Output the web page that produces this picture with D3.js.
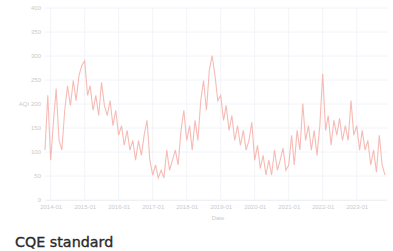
<!DOCTYPE html>
<html><head><meta charset="utf-8">
<script src="https://cdn.jsdelivr.net/npm/d3@7"></script>
<style>html,body{margin:0;padding:0;background:#fff;}svg{display:block;}</style>
</head><body>
<script>
// Monthly values, 2013-11 .. 2023-11
const startMonth = "2013-11";
const values = [104,218,83,166,232,124,104,187,238,197,249,207,259,280,290,218,238,187,218,176,
245,197,176,207,155,187,135,155,114,145,104,124,83,124,93,135,166,83,52,73,
46,62,46,104,62,83,104,73,145,187,124,155,104,166,124,207,249,187,270,301,
259,207,218,166,197,145,176,124,155,114,145,104,124,162,83,114,66,93,52,83,
52,104,62,83,108,62,73,135,73,145,104,201,124,155,104,145,93,155,263,145,
176,114,166,135,170,124,155,124,207,135,155,104,145,104,124,73,104,58,135,73,52];
const yTicks = [0,50,100,150,200,250,300,350,400];
const xTickYears = [2014,2015,2016,2017,2018,2019,2020,2021,2022,2023];
const yTitle = "AQI";
const xTitle = "Date";
const caption = "CQE standard";

(function(){
const W = 393, H = 251;
const svg = d3.select("body").append("svg").attr("width", W).attr("height", H);
const parse = d3.timeParse("%Y-%m");
const t0 = parse(startMonth);
const data = values.map((v, i) => ({d: d3.timeMonth.offset(t0, i), v}));

const mL = 45, mR = 385, mT = 8, mB = 200;
const x = d3.scaleTime().domain([data[0].d, data[data.length-1].d]).range([mL, mR]);
const y = d3.scaleLinear().domain([0, 400]).range([mB, mT]);
const font = "Liberation Sans, Arial, sans-serif";

const g = svg.append("g");
g.selectAll(".hg").data(yTicks).join("line")
  .attr("x1", mL).attr("x2", mR + 3)
  .attr("y1", d => y(d)).attr("y2", d => y(d))
  .attr("stroke", "#eef1f7").attr("stroke-width", 0.8);
const xTicks = xTickYears.map(yr => new Date(yr, 0, 1));
g.selectAll(".vg").data(xTicks).join("line")
  .attr("x1", d => x(d)).attr("x2", d => x(d))
  .attr("y1", mT).attr("y2", mB)
  .attr("stroke", "#f1f3f8").attr("stroke-width", 0.8);

const yAxis = d3.axisLeft(y).tickValues(yTicks).tickSize(0).tickPadding(4);
const ya = svg.append("g").attr("transform", `translate(${mL},0)`).call(yAxis);
ya.select(".domain").remove();
ya.selectAll("text").attr("fill", "#cacaca").style("font-size", "6px").style("font-family", font);

const xAxis = d3.axisBottom(x).tickValues(xTicks).tickFormat(d3.timeFormat("%Y-%m")).tickSize(0).tickPadding(5);
const xa = svg.append("g").attr("transform", `translate(0,${mB})`).call(xAxis);
xa.select(".domain").attr("stroke", "#eef0f4");
xa.selectAll("text").attr("fill", "#cacaca").style("font-size", "6px").style("font-family", font);

svg.append("text").attr("x", 24).attr("y", y(200) + 2).attr("text-anchor", "middle")
  .attr("fill", "#cacaca").style("font-size", "6px").style("font-family", font).text(yTitle);
svg.append("text").attr("x", 218).attr("y", 220).attr("text-anchor", "middle")
  .attr("fill", "#cacaca").style("font-size", "6px").style("font-family", font).text(xTitle);

const line = d3.line().x(d => x(d.d)).y(d => y(d.v));
svg.append("path").datum(data).attr("d", line)
  .attr("fill", "none").attr("stroke", "#f4aaa2").attr("stroke-width", 1.1).attr("stroke-opacity", 0.8);

svg.append("text").attr("x", 15).attr("y", 246.5)
  .attr("fill", "#2a2a2a").attr("stroke", "#2a2a2a").attr("stroke-width", 0.35)
  .style("font-size", "14.3px")
  .style("font-family", "DejaVu Sans, sans-serif").text(caption);
})();
</script>
</body></html>
